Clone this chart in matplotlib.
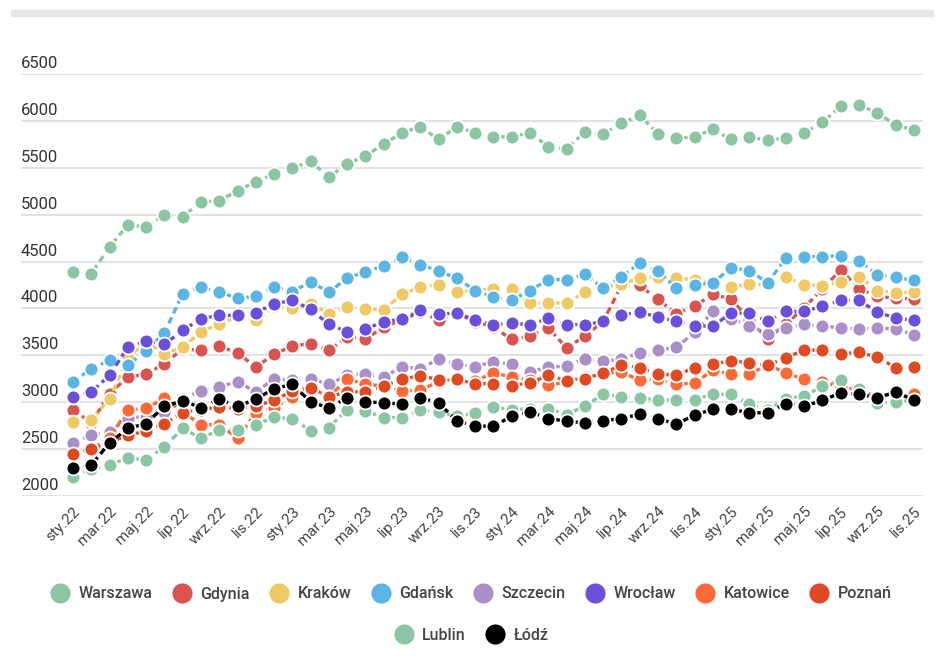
import numpy as np
import matplotlib
matplotlib.use("Agg")
import matplotlib.pyplot as plt
from matplotlib.lines import Line2D
from matplotlib.patches import Rectangle
import matplotlib.transforms as mtransforms

plt.rcParams['font.family'] = ['Roboto', 'DejaVu Sans']

# months sty.22 .. lis.25
month_names = ['sty', 'lut', 'mar', 'kwi', 'maj', 'cze', 'lip', 'sie', 'wrz', 'paź', 'lis', 'gru']
months = [f"{month_names[m]}.{y}" for y in range(22, 26) for m in range(12)][:47]

warszawa = [4390, 4370, 4658, 4889, 4871, 4996, 4978, 5137, 5148, 5255, 5351, 5433, 5500, 5567, 5404, 5539,
            5628, 5752, 5873, 5937, 5802, 5937, 5873, 5830, 5830, 5873, 5724, 5696, 5884, 5862, 5973, 6062,
            5859, 5813, 5830, 5912, 5802, 5830, 5791, 5820, 5873, 5984, 6157, 6168, 6086, 5955, 5902]
gdynia = [2922, 2780, 3092, 3269, 3298, 3411, 3570, 3553, 3599, 3525, 3376, 3511, 3600, 3625, 3553, 3695,
          3677, 3800, 3880, 3960, 3880, 3943, 3860, 3800, 3670, 3706, 3794, 3578, 3706, 3860, 4245, 4245,
          4096, 3943, 4025, 4149, 4103, 3880, 3677, 3837, 4007, 4209, 4411, 4209, 4128, 4110, 4103]
krakow = [2791, 2809, 3039, 3475, 3640, 3518, 3589, 3748, 3837, 3915, 3872, 4021, 4010, 4050, 3943, 4018,
          3990, 3986, 4152, 4230, 4255, 4174, 4195, 4209, 4212, 4058, 4058, 4058, 4174, 4220, 4262, 4323,
          4340, 4323, 4305, 4262, 4230, 4258, 4250, 4333, 4255, 4240, 4283, 4340, 4191, 4165, 4174]
gdansk = [3216, 3358, 3447, 3394, 3546, 3741, 4156, 4227, 4174, 4110, 4128, 4234, 4180, 4284, 4174, 4325,
          4390, 4457, 4550, 4468, 4400, 4321, 4191, 4121, 4085, 4191, 4308, 4308, 4365, 4216, 4340, 4482,
          4394, 4220, 4245, 4273, 4433, 4404, 4273, 4539, 4553, 4553, 4564, 4511, 4358, 4333, 4298]
szczecin = [2565, 2650, 2682, 2835, 2844, 2893, 3030, 3125, 3165, 3218, 3111, 3248, 3234, 3250, 3191, 3287,
            3305, 3265, 3380, 3355, 3461, 3404, 3380, 3432, 3405, 3323, 3376, 3383, 3465, 3436, 3460, 3525,
            3555, 3584, 3745, 3968, 3887, 3818, 3729, 3793, 3830, 3812, 3793, 3779, 3793, 3779, 3722]
wroclaw = [3057, 3110, 3287, 3589, 3652, 3617, 3766, 3890, 3926, 3926, 3954, 4050, 4085, 3992, 3830, 3750,
           3780, 3860, 3883, 3979, 3936, 3954, 3872, 3828, 3840, 3828, 3894, 3828, 3826, 3862, 3930, 3961,
           3908, 3862, 3812, 3812, 3950, 3950, 3862, 3968, 3968, 4025, 4085, 4085, 3961, 3897, 3872]
katowice = [2440, 2500, 2620, 2917, 2935, 3041, 2900, 2757, 2762, 2615, 2888, 2941, 3059, 3150, 3060, 3245,
            3195, 3170, 3121, 3128, 3220, 3250, 3230, 3312, 3269, 3234, 3181, 3216, 3270, 3305, 3323, 3234,
            3245, 3191, 3206, 3340, 3298, 3298, 3400, 3312, 3243, 3216, 3163, 3128, 3057, 3030, 3092]
poznan = [2444, 2505, 2570, 2650, 2690, 2770, 2888, 2920, 2950, 2930, 2960, 3020, 3120, 3156, 3057, 3110,
          3110, 3172, 3245, 3284, 3240, 3245, 3195, 3199, 3178, 3206, 3287, 3230, 3250, 3312, 3394, 3369,
          3300, 3287, 3369, 3404, 3444, 3418, 3394, 3475, 3556, 3556, 3518, 3531, 3482, 3369, 3376]
lublin = [2206, 2290, 2330, 2405, 2384, 2526, 2720, 2617, 2702, 2702, 2756, 2845, 2820, 2698, 2730, 2922,
          2908, 2837, 2837, 2915, 2897, 2850, 2887, 2950, 2920, 2930, 2933, 2869, 2961, 3085, 3057, 3050,
          3021, 3028, 3028, 3085, 3085, 2986, 2915, 3039, 3067, 3170, 3234, 3145, 2993, 3004, 3021]
lodz = [2294, 2330, 2567, 2720, 2773, 2957, 3014, 2943, 3032, 2957, 3032, 3145, 3190, 3004, 2940, 3046,
        3004, 2993, 2979, 3050, 2993, 2801, 2745, 2745, 2850, 2897, 2826, 2798, 2780, 2801, 2826, 2872,
        2826, 2766, 2862, 2925, 2925, 2887, 2887, 2986, 2957, 3021, 3099, 3085, 3046, 3110, 3021]

cities = ['Warszawa', 'Gdynia', 'Kraków', 'Gdańsk', 'Szczecin', 'Wrocław', 'Katowice', 'Poznań', 'Lublin', 'Łódź']
series = [warszawa, gdynia, krakow, gdansk, szczecin, wroclaw, katowice, poznan, lublin, lodz]
colors = ['#8cc5a5', '#d9534f', '#f0c965', '#5ab5e4', '#aa90c9', '#6b4fdb', '#fd6a37', '#e04a22', '#8cc5a5', '#000000']

yticks = [2000, 2500, 3000, 3500, 4000, 4500, 5000, 5500, 6000, 6500]

W, H = 944, 660
fig = plt.figure(figsize=(W / 100, H / 100), dpi=100)

# grey strip on top
fig.patches.append(Rectangle((11 / W, 1 - 16 / H), 922 / W, 6 / H, transform=fig.transFigure,
                             color='#e6e6e6', zorder=0))

ax = fig.add_axes([21 / W, 1 - 496 / H, 902 / W, 422 / H])
x = np.arange(len(months))
for i, (name, vals, c) in enumerate(zip(cities, series, colors)):
    ax.plot(x, vals, color=c, lw=2.4, dashes=(2.0, 1.3), marker='o', markersize=10,
            markeredgecolor='white', markeredgewidth=1.3, zorder=3 + i, clip_on=False)

ax.set_xlim((21 - 73) / 18.28, (923 - 73) / 18.28)
ax.set_ylim(2000, 6500)
for s in ax.spines.values():
    s.set_visible(False)
ax.set_yticks(yticks)
ax.yaxis.grid(True, color='#dddddd', lw=1.2)
ax.set_axisbelow(True)
ax.tick_params(axis='both', length=0)
ax.set_yticklabels([])

off = mtransforms.offset_copy(ax.get_yaxis_transform(), fig=fig, x=0, y=3, units='dots')
for v in yticks:
    ax.text(0, v, str(v), transform=off, ha='left', va='bottom', fontsize=12, color='#333333')

ax.set_xticks(x[::2])
ax.set_xticklabels(months[::2], rotation=45, ha='right', va='top', rotation_mode='anchor',
                   fontsize=11, color='#444444')
ax.tick_params(axis='x', pad=6)


def handle(c):
    return Line2D([], [], linestyle='none', marker='o', markersize=15.5, markerfacecolor=c,
                  markeredgecolor='white', markeredgewidth=1)


leg1 = fig.legend([handle(c) for c in colors[:8]], cities[:8], loc='center', ncol=8,
                  bbox_to_anchor=(0.5, 1 - 594 / H), frameon=False, fontsize=11.5,
                  handlelength=1.0, handletextpad=0.65, columnspacing=1.35, labelcolor='#444444')
for t in leg1.get_texts():
    t.set_fontweight('medium')
leg2 = fig.legend([handle(c) for c in colors[8:]], cities[8:], loc='center', ncol=2,
                  bbox_to_anchor=(0.5, 1 - 635 / H), frameon=False, fontsize=11.5,
                  handlelength=1.0, handletextpad=0.65, columnspacing=1.35, labelcolor='#444444')
for t in leg2.get_texts():
    t.set_fontweight('medium')

fig.savefig('out.png', dpi=100)
